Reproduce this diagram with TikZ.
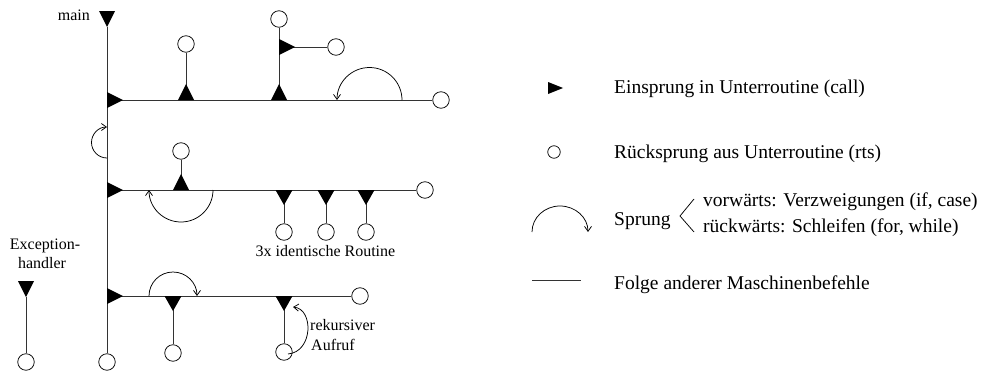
\documentclass[tikz,border=0pt]{standalone}
\usepackage{fontspec}
\setmainfont{Liberation Serif}
\usetikzlibrary{arrows.meta}
\begin{document}
\begin{tikzpicture}[x=1pt,y=-1pt,
  seq/.style={draw=black!80,line width=1pt},
  jump/.style={draw=black,line width=0.75pt,-{Straight Barb[length=5pt,width=7pt]}},
  thin/.style={draw=black,line width=0.75pt},
  ret/.style={circle,draw=black,fill=white,line width=0.75pt,minimum size=16.5pt,inner sep=0pt},
  lab/.style={font=\fontsize{16}{19}\selectfont,inner sep=0pt},
  leg/.style={font=\fontsize{19.5}{23}\selectfont,inner sep=0pt},
  tri right/.pic={\fill (0,-8)--(16,0)--(0,8)--cycle;},
  tri up/.pic={\fill (-8,0)--(0,-16)--(8,0)--cycle;},
  tri down/.pic={\fill (-8.5,0)--(0,15)--(8.5,0)--cycle;},
  tri top/.pic={\fill (-8,-16)--(0,0)--(8,-16)--cycle;},
  tri legend/.pic={\fill (0,-6)--(15,0)--(0,6)--cycle;}
]
\useasboundingbox (0,0) rectangle (983,372);

% ---------- main program ----------
\coordinate (m0) at (107,27);
\node[ret] (mE) at (107,362) {};
\draw[seq] (m0) -- (mE);
\pic at (m0) {tri top};

% row 1
\coordinate (r1) at (107,100);
\node[ret] (r1E) at (441,100) {};
\draw[seq] (r1) -- (r1E);
\coordinate (a1) at (186,100);
\node[ret] (a1E) at (186,44) {};
\draw[seq] (a1) -- (a1E);
\coordinate (b1) at (279,100);
\node[ret] (b1E) at (279,19) {};
\draw[seq] (b1) -- (b1E);
\coordinate (b2) at (279,47);
\node[ret] (b2E) at (336,47) {};
\draw[seq] (b2) -- (b2E);
\pic at (r1) {tri right};
\pic at (a1) {tri up};
\pic at (b1) {tri up};
\pic at (b2) {tri right};
\coordinate (j1s) at (402,100);
\draw[jump] (j1s) arc[start angle=0,end angle=180,radius=32.5pt];

% loop on main line
\coordinate (ls) at (107,158);
\draw[jump] (ls) arc[start angle=270,end angle=90,radius=15.5pt];

% row 2
\coordinate (r2) at (107,190);
\node[ret] (r2E) at (425,190) {};
\draw[seq] (r2) -- (r2E);
\coordinate (c1) at (181,190);
\node[ret] (c1E) at (181,151) {};
\draw[seq] (c1) -- (c1E);
\foreach \i/\xx in {1/284,2/326,3/366}{
  \coordinate (d\i) at (\xx,190);
  \node[ret] (d\i E) at (\xx,232) {};
  \draw[seq] (d\i) -- (d\i E);
  \pic at (d\i) {tri down};
}
\pic at (r2) {tri right};
\pic at (c1) {tri up};
\coordinate (j2s) at (213,190);
\draw[jump] (j2s) arc[start angle=0,end angle=-180,radius=32pt];
\node[lab,anchor=base] (t3x) at (325.5,256) {3x identische Routine};

% row 3
\coordinate (r3) at (107,296);
\node[ret] (r3E) at (360,296) {};
\draw[seq] (r3) -- (r3E);
\coordinate (e1) at (173,296);
\node[ret] (e1E) at (173,353) {};
\draw[seq] (e1) -- (e1E);
\coordinate (e2) at (284,296);
\node[ret] (e2E) at (284,352) {};
\draw[seq] (e2) -- (e2E);
\pic at (r3) {tri right};
\pic at (e1) {tri down};
\pic at (e2) {tri down};
\coordinate (j3s) at (149,296);
\draw[jump] (j3s) arc[start angle=180,end angle=0,radius=24pt];
\coordinate (rk1) at (288,354);
\coordinate (rk2) at (293,307);
\draw[jump] (rk1) .. controls (313,352) and (314,309) .. (rk2);
\node[lab,anchor=base west] (trek) at (310,330) {rekursiver};
\node[lab,anchor=base west] (tauf) at (311,350) {Aufruf};

% labels
\node[lab,anchor=base east] (tmain) at (90,20) {main};
\node[lab,anchor=base] (texc1) at (45,249) {Exception-};
\node[lab,anchor=base] (texc2) at (42,268) {handler};

% exception handler
\coordinate (x0) at (26,297);
\node[ret] (xE) at (26,362) {};
\draw[seq] (x0) -- (xE);
\pic at (x0) {tri top};

% ---------- legend ----------
\coordinate (lt) at (548,88);
\pic at (lt) {tri legend};
\node[leg,anchor=base west] (l1) at (614,93) {Einsprung in Unterroutine (call)};
\node[circle,draw=black,fill=white,line width=0.75pt,minimum size=12.5pt,inner sep=0pt] (lc) at (554,152) {};
\node[leg,anchor=base west] (l2) at (614,158) {Rücksprung aus Unterroutine (rts)};
\coordinate (la) at (532,232);
\draw[jump] (la) arc[start angle=180,end angle=0,x radius=28pt,y radius=26pt];
\node[leg,anchor=base west] (l3) at (614,225) {Sprung};
\coordinate (bt) at (694,199);
\coordinate (bv) at (680,216);
\coordinate (bb) at (694,232);
\draw[thin] (bt) -- (bv) -- (bb);
\node[leg,anchor=base west] (l3a) at (703,206) {vorwärts: Verzweigungen (if, case)};
\node[leg,anchor=base west] (l3b) at (703,232) {rückwärts: Schleifen (for, while)};
\coordinate (ll1) at (532,280);
\coordinate (ll2) at (581,280);
\draw[seq] (ll1) -- (ll2);
\node[leg,anchor=base west] (l4) at (614,289) {Folge anderer Maschinenbefehle};
\end{tikzpicture}
\end{document}
